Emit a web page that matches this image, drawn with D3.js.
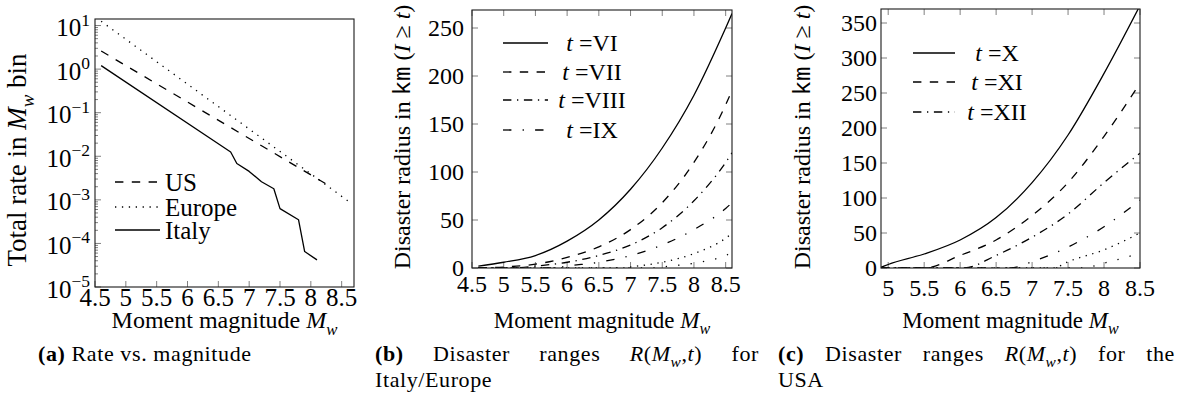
<!DOCTYPE html>
<html><head><meta charset="utf-8">
<script src="https://cdn.jsdelivr.net/npm/d3@7"></script>
<style>
body{margin:0;background:#fff}
text{font-family:'Liberation Serif','DejaVu Serif',serif;fill:#000}
</style></head>
<body><svg id="chart" width="1184" height="405"></svg>
<script>
// ---------------- DATA ----------------
// (a) rate vs magnitude
const rateTickExp = [-5,-4,-3,-2,-1,0,1];
const magTicksA = [4.5,5,5.5,6,6.5,7,7.5,8,8.5];
const usMw = [4.6, 8.3];
const usRate = [2.6, 0.0021];
const europeMw = [4.6, 8.6];
const europeRate = [12.5, 0.00095];
const italyMw = [4.6, 6.7, 6.8, 7.0, 7.2, 7.4, 7.5, 7.8, 7.9, 8.1];
const italyRate = [1.2, 0.0125, 0.0068, 0.0045, 0.0026, 0.0018, 0.00063, 0.00035, 0.000065, 0.000042];

// (b) Italy/Europe disaster radius
const magTicksB = [4.5,5,5.5,6,6.5,7,7.5,8,8.5];
const radTicksB = [0,50,100,150,200,250];
const bVIMw = [4.6,5,5.5,6,6.5,7,7.5,8,8.5,8.6];
const bVIR  = [2,6,13,28,50,82,125,180,250,265];
const bVIIMw = [4.6,5,5.5,6,6.5,7,7.5,8,8.5,8.6];
const bVIIR  = [0,1,4,11,22,40,68,110,170,185];
const bVIIIMw = [4.6,5.1,5.5,6,6.5,7,7.5,8,8.5,8.6];
const bVIIIR  = [0,0,2,6,13,24,42,70,110,120];
const bIXMw = [4.6,5.8,6,6.5,7,7.5,8,8.5,8.6];
const bIXR  = [0,0,2,6,13,24,40,62,68];
const bXMw = [4.6,6.9,7,7.5,8,8.5,8.6];
const bXR  = [0,0,1,6,15,31,36];
const bXIMw = [4.6,7.4,7.5,8,8.5,8.6];
const bXIR  = [0,0,1,5,13,16];
const legendB = ['VI','VII','VIII','IX'];

// (c) USA disaster radius
const magTicksC = [5,5.5,6,6.5,7,7.5,8,8.5];
const radTicksC = [0,50,100,150,200,250,300,350];
const cXMw = [4.9,5,5.5,6,6.5,7,7.5,8,8.5];
const cXR  = [1,5,20,40,72,122,190,278,375];
const cXIMw = [4.9,5.5,6,6.5,7,7.5,8,8.5];
const cXIR  = [0,0,18,40,75,122,188,264];
const cXIIMw = [4.9,6.05,6.5,7,7.5,8,8.5];
const cXIIR  = [0,0,18,44,77,122,164];
const cXIIIMw = [4.9,6.7,7,7.5,8,8.5];
const cXIIIR  = [0,0,9,30,59,97];
const cXIVMw = [4.9,7.3,7.5,8,8.5];
const cXIVR  = [0,0,9,26,50];
const cXVMw = [4.9,7.7,8,8.5];
const cXVR  = [0,0,7,21];
const legendC = ['X','XI','XII'];

// ---------------- STYLE ----------------
const PT = 2.8, LW = 1.3;
const DASH = {
  solid: null,
  dashed: `${3*PT},${3*PT}`,
  dotted: `${LW},${2*PT}`,
  dashdotted: `${3*PT},${2*PT},${LW},${2*PT}`,
  looselydashdotted: `${3*PT},${4*PT},${LW},${4*PT}`,
  looselydotted: `${LW},${4*PT}`
};
const FS_CAP = 22, CAP_LS = 0.6;
const TICKC = '#808080';

const svg = d3.select('#chart');

function runs(text, parts, fs){
  let shift = 0;
  parts.forEach(r=>{
    const ts = text.append('tspan').text(r.t);
    if(r.i) ts.attr('font-style','italic');
    if(r.b) ts.attr('font-weight','bold');
    if(r.f) ts.attr('font-family', r.f);
    const target = r.sub ? 0.28*fs : (r.sup ? -0.42*fs : 0);
    if(r.sub || r.sup) ts.attr('font-size', 0.7*fs);
    if(target !== shift){ ts.attr('dy', target - shift); shift = target; }
  });
  return text;
}

function frame(x, y){
  const [x0,x1] = x.range(), [y0,y1] = y.range();
  svg.append('rect').attr('x',x0).attr('y',y1).attr('width',x1-x0).attr('height',y0-y1)
    .attr('fill','none').attr('stroke','#1a1a1a').attr('stroke-width',1.1);
}
function clip(id, x, y){
  const [x0,x1] = x.range(), [y0,y1] = y.range();
  svg.append('clipPath').attr('id',id).append('rect')
    .attr('x',x0).attr('y',y1).attr('width',x1-x0).attr('height',y0-y1);
}
function xTicks(x, y, vals, len, both){
  const [y0,y1] = y.range();
  vals.forEach(v=>{
    svg.append('line').attr('x1',x(v)).attr('x2',x(v)).attr('y1',y0).attr('y2',y0-len)
      .attr('stroke',TICKC).attr('stroke-width',1);
    if(both) svg.append('line').attr('x1',x(v)).attr('x2',x(v)).attr('y1',y1).attr('y2',y1+len)
      .attr('stroke',TICKC).attr('stroke-width',1);
  });
}
function yTicks(x, y, vals, len, both){
  const [x0,x1] = x.range();
  vals.forEach(v=>{
    svg.append('line').attr('y1',y(v)).attr('y2',y(v)).attr('x1',x0).attr('x2',x0+len)
      .attr('stroke',TICKC).attr('stroke-width',1);
    if(both) svg.append('line').attr('y1',y(v)).attr('y2',y(v)).attr('x1',x1).attr('x2',x1-len)
      .attr('stroke',TICKC).attr('stroke-width',1);
  });
}
function xLabels(x, vals, yb, fs){
  vals.forEach(v=>{
    svg.append('text').attr('x',x(v)).attr('y',yb).attr('text-anchor','middle')
      .attr('font-size',fs).text(String(v));
  });
}
function yLabels(y, vals, xr, fs){
  vals.forEach(v=>{
    svg.append('text').attr('x',xr).attr('y',y(v)).attr('dy','0.34em').attr('text-anchor','end')
      .attr('font-size',fs).text(String(v));
  });
}
function xTitle(x, yb, fs){
  const [x0,x1] = x.range();
  const t = svg.append('text').attr('x',(x0+x1)/2).attr('y',yb).attr('text-anchor','middle').attr('font-size',fs);
  runs(t, [{t:'Moment magnitude '},{t:'M',i:1},{t:'w',i:1,sub:1}], fs);
}
function yTitle(xc, yc, parts, fs){
  const t = svg.append('text').attr('transform',`translate(${xc},${yc}) rotate(-90)`)
    .attr('text-anchor','middle').attr('dy','0.34em').attr('font-size',fs);
  runs(t, parts, fs);
}
function drawLine(x, y, mw, vals, style, clipId){
  const line = d3.line().x((d,i)=>x(mw[i])).y(d=>y(d)).curve(d3.curveMonotoneX);
  const p = svg.append('path').attr('d', line(vals)).attr('fill','none')
    .attr('stroke','#000').attr('stroke-width',LW);
  if(DASH[style]) p.attr('stroke-dasharray', DASH[style]);
  if(clipId) p.attr('clip-path',`url(#${clipId})`);
}
function drawPoly(x, y, mw, vals, style){
  const line = d3.line().x((d,i)=>x(mw[i])).y(d=>y(d));
  const p = svg.append('path').attr('d', line(vals)).attr('fill','none')
    .attr('stroke','#000').attr('stroke-width',LW).attr('stroke-linejoin','round');
  if(DASH[style]) p.attr('stroke-dasharray', DASH[style]);
}
function legendRow(x0, x1, yr, style){
  const p = svg.append('line').attr('x1',x0).attr('x2',x1).attr('y1',yr).attr('y2',yr)
    .attr('stroke','#000').attr('stroke-width',LW);
  if(DASH[style]) p.attr('stroke-dasharray', DASH[style]);
}

// ---------------- PANEL A ----------------
const FSA = 25;
const xA = d3.scaleLinear().domain([4.5,8.7]).range([95,354]);
const yA = d3.scaleLog().domain([1e-5, Math.pow(10,1.15)]).range([287,19]);
const majorA = rateTickExp.map(e=>Math.pow(10,e));
const minorA = yA.ticks().filter(v=>!majorA.some(m=>Math.abs(m-v)/m<1e-6));
yTicks(xA, yA, minorA, 3, false);
yTicks(xA, yA, majorA, 6, false);
xTicks(xA, yA, magTicksA, 6, false);
drawPoly(xA, yA, europeMw, europeRate, 'dotted');
drawPoly(xA, yA, usMw, usRate, 'dashed');
drawPoly(xA, yA, italyMw, italyRate, 'solid');
frame(xA, yA);
rateTickExp.forEach(e=>{
  const t = svg.append('text').attr('x',90).attr('y',yA(Math.pow(10,e))).attr('dy','0.42em')
    .attr('text-anchor','end').attr('font-size',FSA);
  runs(t, [{t:'10'},{t:(e<0?'\u2212':'')+Math.abs(e),sup:1}], FSA);
});
xLabels(xA, magTicksA, 306, FSA);
xTitle(xA, 328, 24);
yTitle(17, 160, [{t:'Total rate in '},{t:'M',i:1},{t:'w',i:1,sub:1},{t:' bin'}], 27);
[['US','dashed',182],['Europe','dotted',207],['Italy','solid',230]].forEach(([lab,st,yr])=>{
  legendRow(115,160,yr,st);
  svg.append('text').attr('x',165).attr('y',yr).attr('dy','0.34em').attr('font-size',25).text(lab);
});

// ---------------- PANEL B ----------------
const FSB = 24;
const xB = d3.scaleLinear().domain([4.5,8.6]).range([472,732]);
const yB = d3.scaleLinear().domain([0,268.75]).range([268,10]);
clip('clipB', xB, yB);
xTicks(xB, yB, magTicksB, 6, true);
yTicks(xB, yB, radTicksB, 6, true);
const stylesB = ['solid','dashed','dashdotted','looselydashdotted','dotted','looselydotted'];
[[bVIMw,bVIR],[bVIIMw,bVIIR],[bVIIIMw,bVIIIR],[bIXMw,bIXR],[bXMw,bXR],[bXIMw,bXIR]]
  .forEach(([m,r],i)=>drawLine(xB, yB, m, r, stylesB[i], 'clipB'));
frame(xB, yB);
yLabels(yB, radTicksB, 464, FSB);
xLabels(xB, magTicksB, 292, FSB);
xTitle(xB, 328, 23);
const ylabBC = [{t:'Disaster radius in '},{t:'km',f:'Liberation Mono'},{t:' ('},{t:'I',i:1},{t:' \u2265 '},{t:'t',i:1},{t:')'}];
yTitle(402, 137, ylabBC, 24);
[43,72,100,130].forEach((yr,i)=>{
  legendRow(503,548,yr,stylesB[i]);
  const t = svg.append('text').attr('x',592).attr('y',yr).attr('dy','0.34em').attr('text-anchor','middle').attr('font-size',FSB);
  runs(t, [{t:'t',i:1},{t:' ='},{t:legendB[i]}], FSB);
});

// ---------------- PANEL C ----------------
const xC = d3.scaleLinear().domain([4.9,8.5]).range([881,1140]);
const yC = d3.scaleLinear().domain([0,370]).range([268,9]);
clip('clipC', xC, yC);
xTicks(xC, yC, magTicksC, 6, true);
yTicks(xC, yC, radTicksC, 6, true);
[[cXMw,cXR],[cXIMw,cXIR],[cXIIMw,cXIIR],[cXIIIMw,cXIIIR],[cXIVMw,cXIVR],[cXVMw,cXVR]]
  .forEach(([m,r],i)=>drawLine(xC, yC, m, r, stylesB[i], 'clipC'));
frame(xC, yC);
yLabels(yC, radTicksC, 877, FSB);
xLabels(xC, magTicksC, 296, FSB);
xTitle(xC, 328, 23);
yTitle(802, 137, ylabBC, 24);
[53,82,112].forEach((yr,i)=>{
  legendRow(913,955,yr,stylesB[i]);
  const t = svg.append('text').attr('x',997).attr('y',yr).attr('dy','0.34em').attr('text-anchor','middle').attr('font-size',FSB);
  runs(t, [{t:'t',i:1},{t:' ='},{t:legendC[i]}], FSB);
});

// ---------------- CAPTIONS ----------------
function capText(x, yb){
  return svg.append('text').attr('x',x).attr('y',yb).attr('font-size',FS_CAP).attr('letter-spacing',CAP_LS);
}
function justifyLine(words, x0, x1, yb){
  const nodes = words.map(w=>{
    const t = capText(0, yb);
    runs(t, w, FS_CAP);
    return t;
  });
  const widths = nodes.map(n=>n.node().getComputedTextLength());
  const total = d3.sum(widths);
  const gap = (x1-x0-total)/(words.length-1);
  let cx = x0;
  nodes.forEach((n,i)=>{ n.attr('x',cx); cx += widths[i]+gap; });
}
runs(capText(38, 361), [{t:'(a)',b:1},{t:' Rate vs. magnitude'}], FS_CAP);
const Rterm = [{t:'R',i:1},{t:'('},{t:'M',i:1},{t:'w',i:1,sub:1},{t:','},{t:'t',i:1},{t:')'}];
justifyLine([[{t:'(b)',b:1}],[{t:'Disaster'}],[{t:'ranges'}],Rterm,[{t:'for'}]], 375, 759, 361);
capText(375, 387).text('Italy/Europe');
justifyLine([[{t:'(c)',b:1}],[{t:'Disaster'}],[{t:'ranges'}],Rterm,[{t:'for'}],[{t:'the'}]], 778, 1175, 361);
capText(778, 387).text('USA');
</script></body></html>
